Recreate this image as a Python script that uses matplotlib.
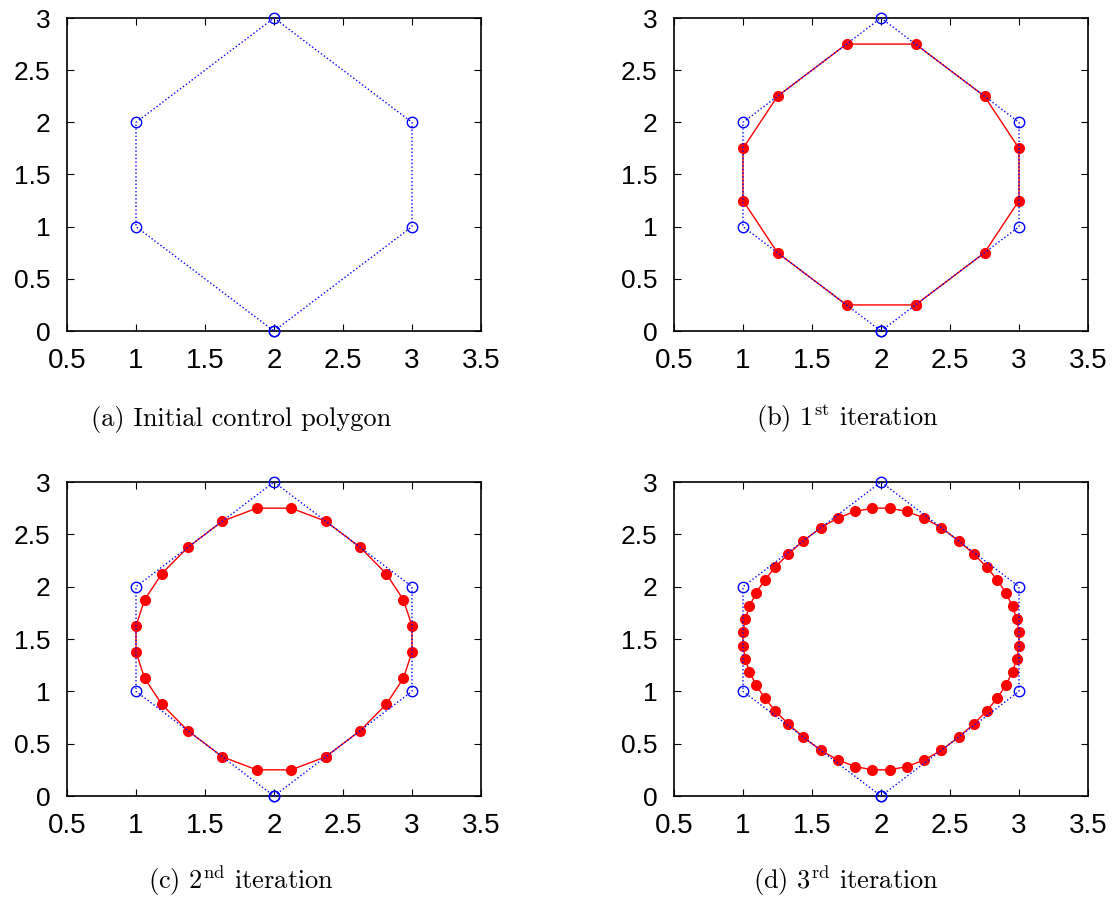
import matplotlib
matplotlib.use("Agg")
import matplotlib.pyplot as plt

# control polygon (closed)
ctrl_x = [2, 3, 3, 2, 1, 1, 2]
ctrl_y = [0, 1, 2, 3, 2, 1, 0]

# 1st iteration
it1_x = [2.25, 2.75, 3, 3, 2.75, 2.25, 1.75, 1.25, 1, 1, 1.25, 1.75, 2.25]
it1_y = [0.25, 0.75, 1.25, 1.75, 2.25, 2.75, 2.75, 2.25, 1.75, 1.25, 0.75, 0.25, 0.25]

# 2nd iteration
it2_x = [2.375, 2.625, 2.8125, 2.9375, 3, 3, 2.9375, 2.8125, 2.625, 2.375, 2.125, 1.875,
         1.625, 1.375, 1.1875, 1.0625, 1, 1, 1.0625, 1.1875, 1.375, 1.625, 1.875, 2.125, 2.375]
it2_y = [0.375, 0.625, 0.875, 1.125, 1.375, 1.625, 1.875, 2.125, 2.375, 2.625, 2.75, 2.75,
         2.625, 2.375, 2.125, 1.875, 1.625, 1.375, 1.125, 0.875, 0.625, 0.375, 0.25, 0.25, 0.375]

# 3rd iteration
it3_x = [2.4375, 2.5625, 2.671875, 2.765625, 2.84375, 2.90625, 2.953125, 2.984375,
         3, 3, 2.984375, 2.953125, 2.90625, 2.84375, 2.765625, 2.671875,
         2.5625, 2.4375, 2.3125, 2.1875, 2.0625, 1.9375, 1.8125, 1.6875,
         1.5625, 1.4375, 1.328125, 1.234375, 1.15625, 1.09375, 1.046875, 1.015625,
         1, 1, 1.015625, 1.046875, 1.09375, 1.15625, 1.234375, 1.328125,
         1.4375, 1.5625, 1.6875, 1.8125, 1.9375, 2.0625, 2.1875, 2.3125, 2.4375]
it3_y = [0.4375, 0.5625, 0.6875, 0.8125, 0.9375, 1.0625, 1.1875, 1.3125,
         1.4375, 1.5625, 1.6875, 1.8125, 1.9375, 2.0625, 2.1875, 2.3125,
         2.4375, 2.5625, 2.65625, 2.71875, 2.75, 2.75, 2.71875, 2.65625,
         2.5625, 2.4375, 2.3125, 2.1875, 2.0625, 1.9375, 1.8125, 1.6875,
         1.5625, 1.4375, 1.3125, 1.1875, 1.0625, 0.9375, 0.8125, 0.6875,
         0.5625, 0.4375, 0.34375, 0.28125, 0.25, 0.25, 0.28125, 0.34375, 0.4375]

captions = [r"(a) Initial control polygon",
            r"(b) 1$^{\rm st}$ iteration",
            r"(c) 2$^{\rm nd}$ iteration",
            r"(d) 3$^{\rm rd}$ iteration"]
refined = [None, (it1_x, it1_y), (it2_x, it2_y), (it3_x, it3_y)]

xticks = [0.5, 1, 1.5, 2, 2.5, 3, 3.5]
yticks = [0, 0.5, 1, 1.5, 2, 2.5, 3]

plt.rcParams['font.family'] = ['Liberation Sans', 'DejaVu Sans']
plt.rcParams['mathtext.fontset'] = 'cm'

W, H = 1118, 897
fig = plt.figure(figsize=(W / 100, H / 100), dpi=100)

# axes boxes in pixels: left, top, width, height; caption centre x, baseline y
boxes = [(67, 18, 414, 313), (674, 18, 414, 313),
         (67, 482, 414, 314), (674, 482, 414, 314)]
cap_pos = [(241, 426), (847, 426), (241, 889), (846, 889)]

for k, (l, t, w, h) in enumerate(boxes):
    ax = fig.add_axes([l / W, 1 - (t + h) / H, w / W, h / H])
    ax.plot(ctrl_x, ctrl_y, color='blue', linestyle=':', linewidth=1.0,
            marker='o', markersize=7.5, markerfacecolor='none', markeredgewidth=1.0,
            zorder=3, clip_on=False)
    if refined[k] is not None:
        rx, ry = refined[k]
        ax.plot(rx, ry, color='red', linestyle='-', linewidth=1.0,
                marker='o', markersize=8, markeredgewidth=0, zorder=2)
    ax.set_xlim(0.5, 3.5)
    ax.set_ylim(0, 3)
    ax.set_xticks(xticks)
    ax.set_yticks(yticks)
    ax.set_xticklabels([f"{v:g}" for v in xticks])
    ax.set_yticklabels([f"{v:g}" for v in yticks])
    ax.tick_params(direction='in', top=True, right=True, length=5, width=0.8)
    ax.tick_params(axis='x', pad=12, labelsize=20)
    ax.tick_params(axis='y', pad=12, labelsize=19)
    for s in ax.spines.values():
        s.set_linewidth(1.2)
    cx, cy = cap_pos[k]
    fig.text(cx / W, 1 - cy / H, captions[k], ha='center', va='baseline',
             family='cmr10', fontsize=19)

fig.savefig("out.png", dpi=100)
